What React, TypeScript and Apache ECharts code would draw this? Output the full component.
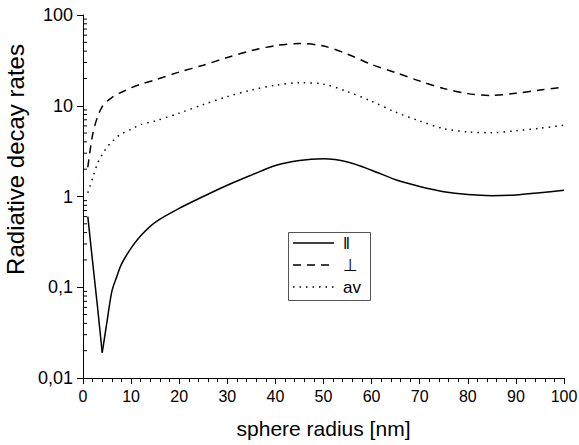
import React, { useEffect, useRef } from "react";
import * as echarts from "echarts";

const radius = [1, 2, 3, 4, 5, 6, 7, 8, 10, 12, 15, 20, 25, 30, 35, 40, 45, 50, 55, 60, 65, 70, 75, 80, 85, 90, 95, 100];
const parallel = [0.6, 0.19, 0.062, 0.019, 0.042, 0.09, 0.13, 0.18, 0.27, 0.37, 0.52, 0.74, 1.0, 1.33, 1.72, 2.2, 2.5, 2.6, 2.4, 1.95, 1.53, 1.29, 1.13, 1.05, 1.02, 1.04, 1.1, 1.17];
const perpendicular = [2.1, 4.8, 7.5, 9.8, 11.2, 12.3, 13.3, 14.1, 15.8, 17.3, 19.3, 23.5, 28, 34, 40.5, 46, 48.5, 45.5, 37, 28.5, 23.2, 18.7, 15.5, 13.6, 13.0, 13.7, 14.9, 16.0];
const average = [1.1, 1.6, 2.3, 2.9, 3.5, 4.0, 4.5, 4.9, 5.5, 6.2, 6.8, 8.3, 10.3, 12.6, 14.9, 16.8, 17.9, 17.3, 14.3, 11.2, 8.5, 6.8, 5.6, 5.15, 5.05, 5.3, 5.65, 6.1];
const seriesNames = ["‖", "⊥", "av"];
const yMinorTicks = [0.02, 0.03, 0.04, 0.05, 0.06, 0.07, 0.08, 0.09, 0.2, 0.3, 0.4, 0.5, 0.6, 0.7, 0.8, 0.9, 2, 3, 4, 5, 6, 7, 8, 9, 20, 30, 40, 50, 60, 70, 80, 90];
const parallelMinIndex = 3;

const FONT = "'Liberation Sans', Arial, Helvetica, sans-serif";

export default function App() {
  const ref = useRef<HTMLDivElement>(null);
  useEffect(() => {
    if (!ref.current) return;
    const chart = echarts.init(ref.current, null, { renderer: "svg" });
    const mk = (vals: number[]) => radius.map((x, i) => [x, vals[i]]);
    const parallelPts = mk(parallel);
    const axisLine = { show: true, lineStyle: { color: "#000", width: 1 } };
    const legendRows = [
      { name: seriesNames[0], dash: null as number[] | null },
      { name: seriesNames[1], dash: [8, 6] },
      { name: seriesNames[2], dash: [1.5, 5] },
    ];
    const legendX = 288;
    const legendY = 232;
    const legendGraphics: any[] = [
      {
        type: "rect",
        shape: { x: legendX + 0.5, y: legendY + 0.5, width: 82, height: 68 },
        style: { fill: "#fff", stroke: "#555", lineWidth: 1 },
        z: 10,
      },
    ];
    legendRows.forEach((row, i) => {
      const cy = legendY + 11 + i * 22;
      legendGraphics.push({
        type: "line",
        shape: { x1: legendX + 5, y1: cy, x2: legendX + 46, y2: cy },
        style: { stroke: "#000", lineWidth: 1.5, lineDash: row.dash || undefined },
        z: 11,
      });
      legendGraphics.push({
        type: "text",
        x: legendX + 55,
        y: cy,
        style: {
          text: row.name,
          fill: "#000",
          fontSize: 17,
          fontFamily: "'Liberation Sans', 'DejaVu Sans', Arial, sans-serif",
          verticalAlign: "middle",
          align: "left",
        },
        z: 11,
      });
    });

    chart.setOption({
      animation: false,
      backgroundColor: "#fff",
      textStyle: { fontFamily: FONT },
      grid: { left: 83, right: 15, top: 15, bottom: 67, outerBoundsMode: "none", containLabel: false },
      graphic: legendGraphics,
      xAxis: [
        {
          type: "value",
          min: 0,
          max: 100,
          interval: 10,
          position: "bottom",
          name: "sphere radius [nm]",
          nameLocation: "middle",
          nameGap: 40,
          nameTextStyle: { fontSize: 21, color: "#000", fontFamily: FONT },
          axisLine,
          axisTick: { show: true, length: 6, lineStyle: { color: "#000" } },
          axisLabel: { fontSize: 16, color: "#000", margin: 10, fontFamily: FONT },
          splitLine: { show: false },
        },
        {
          type: "value",
          min: 0,
          max: 100,
          interval: 2,
          position: "bottom",
          offset: 0,
          axisLine: { show: false },
          axisTick: { show: true, length: 4, lineStyle: { color: "#000" } },
          axisLabel: { show: false },
          splitLine: { show: false },
        },
      ],
      yAxis: {
        type: "log",
        logBase: 10,
        min: 0.01,
        max: 100,
        name: "Radiative decay rates",
        nameLocation: "middle",
        nameGap: 50,
        nameTextStyle: { fontSize: 24, color: "#000", fontFamily: FONT, padding: [0, 0, 0, 74] },
        axisLine,
        axisTick: { show: true, length: 6, lineStyle: { color: "#000" } },
        axisLabel: {
          fontSize: 18,
          color: "#000",
          margin: 10,
          fontFamily: FONT,
          formatter: (v: number) => String(v).replace(".", ","),
        },
        splitLine: { show: false },
      },
      series: [
        {
          name: seriesNames[0],
          type: "line",
          data: parallelPts.slice(0, parallelMinIndex + 1),
          showSymbol: false,
          symbol: "none",
          lineStyle: { color: "#000", width: 1.5, type: "solid" },
        },
        {
          name: seriesNames[0],
          type: "line",
          data: parallelPts.slice(parallelMinIndex),
          showSymbol: false,
          symbol: "none",
          smooth: 0.3,
          lineStyle: { color: "#000", width: 1.5, type: "solid" },
        },
        {
          name: seriesNames[1],
          type: "line",
          data: mk(perpendicular),
          showSymbol: false,
          symbol: "none",
          smooth: 0.3,
          lineStyle: { color: "#000", width: 1.5, type: [8, 6] },
        },
        {
          name: seriesNames[2],
          type: "line",
          data: mk(average),
          showSymbol: false,
          symbol: "none",
          smooth: 0.3,
          lineStyle: { color: "#000", width: 1.5, type: [1.5, 5] },
        },
        {
          type: "custom",
          clip: false,
          silent: true,
          data: yMinorTicks.map((v) => [0, v]),
          renderItem: (params: any, api: any) => {
            const p = api.coord([0, api.value(1)]);
            return {
              type: "line",
              shape: { x1: p[0], y1: p[1], x2: p[0] + 4, y2: p[1] },
              style: { stroke: "#000", lineWidth: 1 },
            };
          },
        },
      ],
    });
    return () => chart.dispose();
  }, []);
  return <div ref={ref} style={{ width: 579, height: 445, position: "absolute", left: 0, top: 0 }} />;
}
